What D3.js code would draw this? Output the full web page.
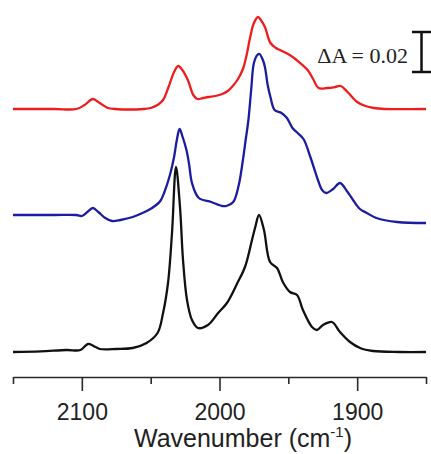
<!DOCTYPE html>
<html>
<head>
<meta charset="utf-8">
<script src="https://cdn.jsdelivr.net/npm/d3@7"></script>
<style>
  body { margin: 0; background: #fff; }
</style>
</head>
<body>
<script>
// spectra: wavenumber (cm-1) and absorbance above each trace's baseline
var redWn = [2150, 2120, 2104, 2098, 2092, 2087, 2081, 2076, 2055, 2050, 2045, 2041, 2037, 2033, 2030, 2027, 2023, 2019, 2016, 2012, 2008, 2003, 1998, 1994, 1991, 1987, 1983, 1980, 1978, 1975, 1972, 1970, 1967, 1963, 1959, 1956, 1949, 1944, 1936, 1932, 1928, 1922, 1916, 1912, 1907, 1900, 1894, 1888, 1880, 1850];
var redAbs = [0, 0, 0, 0.002, 0.005, 0.003, 0.0005, 0, 0, 0.0005, 0.002, 0.0045, 0.011, 0.0185, 0.0215, 0.0195, 0.0145, 0.007, 0.005, 0.0055, 0.006, 0.0065, 0.0075, 0.009, 0.011, 0.0145, 0.02, 0.028, 0.035, 0.043, 0.046, 0.0445, 0.041, 0.033, 0.0305, 0.0295, 0.027, 0.0245, 0.0195, 0.015, 0.0105, 0.0105, 0.011, 0.0115, 0.0085, 0.0035, 0.0015, 0.0005, 0, 0];

var blueWn = [2150, 2120, 2104, 2100, 2096, 2092, 2088, 2083, 2078, 2072, 2063, 2056, 2049, 2043, 2040, 2036, 2033, 2031, 2029, 2027, 2024, 2022, 2020, 2015, 2006, 1998, 1995, 1990, 1986, 1983, 1981, 1979, 1977, 1975, 1972.5, 1971, 1968.5, 1967, 1965, 1963, 1960, 1955, 1951, 1947, 1944, 1939, 1934, 1928.5, 1925.5, 1922.5, 1917.5, 1912.5, 1907.5, 1903, 1898, 1893, 1886, 1871, 1850];
var blueAbs = [0, 0, 0, -0.0005, 0.0015, 0.0035, 0.0015, -0.0015, -0.003, -0.0025, -0.001, 0.001, 0.0035, 0.007, 0.0115, 0.02, 0.029, 0.0375, 0.043, 0.0395, 0.0325, 0.025, 0.016, 0.0085, 0.0065, 0.0045, 0.0045, 0.0065, 0.015, 0.0275, 0.0375, 0.0475, 0.0625, 0.076, 0.08, 0.0805, 0.0775, 0.074, 0.065, 0.059, 0.0525, 0.051, 0.0485, 0.0435, 0.0415, 0.038, 0.029, 0.0175, 0.0125, 0.011, 0.013, 0.016, 0.012, 0.0075, 0.003, 0.001, -0.0015, -0.0035, -0.004];

var blackWn = [2150, 2130, 2111, 2101, 2095.5, 2090, 2087, 2075, 2063, 2053, 2045, 2041, 2037.4, 2034.5, 2031.6, 2028.7, 2026.5, 2023.6, 2020, 2015.6, 2008.4, 2001, 1994.6, 1987, 1981.5, 1976.4, 1974, 1971.3, 1967.7, 1963.3, 1958.2, 1954, 1948.8, 1943.7, 1939.4, 1932.8, 1929.2, 1924.8, 1918.3, 1912.5, 1905.2, 1897.9, 1888.5, 1869, 1850];
var blackAbs = [0, 0.0003, 0.001, 0.001, 0.004, 0.0025, 0.0015, 0.0015, 0.002, 0.0045, 0.0095, 0.0195, 0.0345, 0.0595, 0.0925, 0.0725, 0.046, 0.026, 0.016, 0.012, 0.0135, 0.0195, 0.0245, 0.0345, 0.0425, 0.056, 0.0625, 0.0685, 0.061, 0.045, 0.042, 0.035, 0.03, 0.0285, 0.021, 0.0125, 0.011, 0.0135, 0.015, 0.01, 0.005, 0.002, 0.0005, 0, 0];

var traceNames = ["red", "blue", "black"];
var traceOffsets = [0.1215, 0.0685, 0];
var traceColors = ["#ee1c1c", "#1c1ca0", "#111111"];

var majorTicks = [2100, 2000, 1900];
var minorTicks = [2150, 2050, 1950, 1850];
var scaleBarSize = 0.02;
var scaleBarLabel = "\u0394A = 0.02";

var width = 431;
var height = 454;

var svg = d3.select("body").append("svg")
  .attr("width", width)
  .attr("height", height);

var x = d3.scaleLinear()
  .domain([2150, 1850])
  .range([13, 426]);

var y = d3.scaleLinear()
  .domain([0, 0.17])
  .range([352, 12]);

var traces = [
  {wn: redWn, abs: redAbs},
  {wn: blueWn, abs: blueAbs},
  {wn: blackWn, abs: blackAbs}
];

var line = d3.line()
  .x(function(d){ return x(d[0]); })
  .y(function(d){ return y(d[1]); })
  .curve(d3.curveCatmullRom.alpha(0.5));

traces.forEach(function(t, i){
  var pts = t.wn.map(function(w, j){
    return [w, t.abs[j] + traceOffsets[i]];
  });
  svg.append("path")
    .attr("class", "trace-" + traceNames[i])
    .attr("d", line(pts))
    .attr("fill", "none")
    .attr("stroke", traceColors[i])
    .attr("stroke-width", 2.3)
    .attr("stroke-linejoin", "round");
});

// x axis: long ticks with labels, short ticks between
var axisY = 377;
var minorAxis = d3.axisBottom(x)
  .tickValues(minorTicks)
  .tickSize(7)
  .tickSizeOuter(0)
  .tickFormat("");

svg.append("g")
  .attr("transform", "translate(0," + axisY + ")")
  .call(minorAxis)
  .call(function(g){ g.select(".domain").remove(); });

var majorAxis = d3.axisBottom(x)
  .tickValues(majorTicks)
  .tickSize(14)
  .tickSizeOuter(0)
  .tickPadding(12.5)
  .tickFormat(d3.format("d"));

svg.append("g")
  .attr("transform", "translate(0," + axisY + ")")
  .call(majorAxis);

svg.selectAll(".tick line, .domain")
  .attr("stroke", "#2a2a2a")
  .attr("stroke-width", 1.6);

svg.selectAll(".tick text")
  .attr("fill", "#222")
  .style("font-family", "'Liberation Sans', Arial, sans-serif")
  .style("font-size", "23px");

var title = svg.append("text")
  .attr("x", 243)
  .attr("y", 447)
  .attr("text-anchor", "middle")
  .attr("fill", "#222")
  .style("font-family", "'Liberation Sans', Arial, sans-serif")
  .style("font-size", "25px");
title.append("tspan").text("Wavenumber (cm");
title.append("tspan").text("-1")
  .attr("dy", -10)
  .style("font-size", "15px");
title.append("tspan").text(")")
  .attr("dy", 10);

// scale bar
var barX = 421.5;
var barTop = y(0.16);
var barBottom = y(0.16 - scaleBarSize);
svg.append("line")
  .attr("x1", barX).attr("x2", barX)
  .attr("y1", barTop).attr("y2", barBottom)
  .attr("stroke", "#111").attr("stroke-width", 2.5);
[barTop, barBottom].forEach(function(yy){
  svg.append("line")
    .attr("x1", barX - 9.5).attr("x2", barX + 9.5)
    .attr("y1", yy).attr("y2", yy)
    .attr("stroke", "#111").attr("stroke-width", 2.5);
});
svg.append("text")
  .text(scaleBarLabel)
  .attr("x", 408)
  .attr("y", 63)
  .attr("text-anchor", "end")
  .attr("fill", "#222")
  .style("font-family", "'Liberation Serif', 'Times New Roman', serif")
  .style("font-size", "22px");
</script>
</body>
</html>
